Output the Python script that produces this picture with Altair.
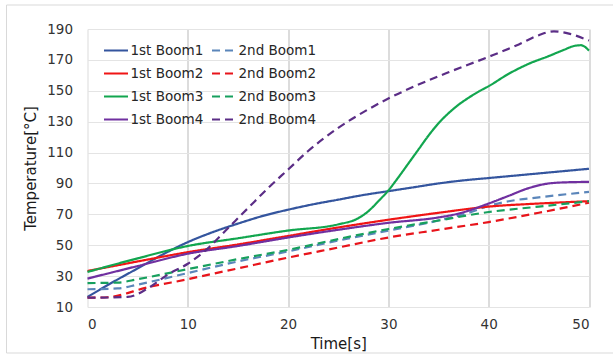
import altair as alt
import pandas as pd

# ---- data ----
series_names = ["1st Boom1", "1st Boom2", "1st Boom3", "1st Boom4",
                "2nd Boom1", "2nd Boom2", "2nd Boom3", "2nd Boom4"]
series_colors = ["#34559E", "#F01515", "#12A64F", "#7030A0",
                 "#5B86BA", "#E8141B", "#17A05E", "#5B2D86"]

t_1st_boom1 = [0, 2.5, 5, 7.5, 10, 12.5, 15, 17.5, 20, 22.5, 25, 27.5, 30, 32.5, 35, 37.5, 40, 42.5, 45, 47.5, 50]
v_1st_boom1 = [16.5, 26, 35, 44, 52, 58.5, 64, 69, 73, 76.5, 79.5, 82.5, 85, 87.5, 90, 92, 93.5, 95, 96.5, 98, 99.5]

t_2nd_boom1 = [0, 3, 5, 10, 15, 20, 25, 30, 35, 38, 40, 42, 45, 50]
v_2nd_boom1 = [21.5, 22, 24.5, 32, 39.5, 46, 53, 59.5, 66, 71, 75.5, 78.5, 81, 84.5]

t_1st_boom2 = [0, 5, 10, 15, 20, 25, 30, 35, 40, 45, 50]
v_1st_boom2 = [33.3, 39.5, 45.5, 50.5, 56, 61.5, 66.5, 71, 75, 77, 78.5]

t_2nd_boom2 = [0, 2, 4, 5, 10, 15, 20, 25, 30, 35, 40, 45, 50]
v_2nd_boom2 = [16, 16.3, 19, 21, 28, 35, 42, 48.5, 55, 60, 65, 71, 77.5]

t_1st_boom3 = [0, 5, 10, 15, 20, 25, 27, 28, 29, 30, 31, 32, 33, 34, 35, 36, 37, 38, 39, 40, 42, 44, 46, 47.5, 48.5, 49.2, 50]
v_1st_boom3 = [32.7, 41.5, 49.5, 54.5, 59.5, 63.5, 67.5, 72, 78.5, 85.5, 94, 103, 112, 121, 129, 135.5, 141, 145.5, 149.5, 153, 161, 167.5, 172.5, 176.5, 179, 179.5, 176]

t_2nd_boom3 = [0, 3, 5, 10, 15, 20, 25, 30, 35, 40, 45, 50]
v_2nd_boom3 = [25.5, 25.8, 28, 34.5, 41, 47, 54, 60.5, 66, 71.5, 75, 78.5]

t_1st_boom4 = [0, 5, 10, 15, 20, 25, 30, 35, 37, 40, 42, 44, 46, 48, 50]
v_1st_boom4 = [28.4, 36.5, 44.5, 49.5, 55, 60, 64.5, 68, 70.5, 77, 82, 87, 90, 90.8, 91]

t_2nd_boom4 = [0, 4, 6, 8, 10, 12, 14, 16, 18, 20, 22, 25, 28, 30, 33, 36, 40, 43, 45, 46.5, 48, 50]
v_2nd_boom4 = [16, 16.5, 22, 31, 38, 48, 61, 74, 87, 99, 111, 126, 138, 145, 154, 162, 172, 180, 186, 188.5, 187, 182.5]

x_ticks = [0, 10, 20, 30, 40, 50]
y_ticks = [10, 30, 50, 70, 90, 110, 130, 150, 170, 190]

series_data = {
    "1st Boom1": (t_1st_boom1, v_1st_boom1),
    "2nd Boom1": (t_2nd_boom1, v_2nd_boom1),
    "1st Boom2": (t_1st_boom2, v_1st_boom2),
    "2nd Boom2": (t_2nd_boom2, v_2nd_boom2),
    "1st Boom3": (t_1st_boom3, v_1st_boom3),
    "2nd Boom3": (t_2nd_boom3, v_2nd_boom3),
    "1st Boom4": (t_1st_boom4, v_1st_boom4),
    "2nd Boom4": (t_2nd_boom4, v_2nd_boom4),
}

rows = []
for name, (ts, vs) in series_data.items():
    for t, v in zip(ts, vs):
        rows.append({"series": name, "time": t, "temp": v})
df = pd.DataFrame(rows)

FONT = "DejaVu Sans"
W, H = 501.5, 278

dash_range = [[1, 0] if n.startswith("1st") else [8, 5] for n in series_names]

legend_kw = dict(title=None, orient="none", legendX=15, legendY=8,
                 columns=2, columnPadding=4, rowPadding=3,
                 symbolType="stroke", symbolSize=576,
                 symbolStrokeWidth=2.2, labelOffset=1,
                 labelFont=FONT, labelFontSize=13.5,
                 labelColor="#262626")

lines = alt.Chart(df).mark_line(interpolate="monotone", strokeWidth=2.2).encode(
    x=alt.X("time:Q",
            scale=alt.Scale(domain=[0, 50], nice=False, zero=False),
            axis=alt.Axis(values=x_ticks, title="Time[s]", grid=True,
                          gridColor={"condition": {"test": "datum.value == 0", "value": "#E4E4E4"}, "value": "#CACACA"},
                          gridWidth=1.3,
                          ticks=False, domain=False, labelPadding=10,
                          titlePadding=6)),
    y=alt.Y("temp:Q",
            scale=alt.Scale(domain=[10, 190], nice=False, zero=False),
            axis=alt.Axis(values=y_ticks, title="Temperature[°C]", grid=True,
                          gridColor="#E4E4E4", ticks=False, domain=False,
                          labelPadding=15, titlePadding=8)),
    color=alt.Color("series:N",
                    scale=alt.Scale(domain=series_names, range=series_colors),
                    legend=alt.Legend(**legend_kw)),
    strokeDash=alt.StrokeDash("series:N",
                              scale=alt.Scale(domain=series_names, range=dash_range),
                              legend=alt.Legend(**legend_kw)),
    order=alt.Order("time:Q"),
)

frame = alt.Chart(pd.DataFrame({"a": [0]})).mark_rect(
    fill=None, stroke="#D9D9D9", strokeWidth=1, clip=False
).encode(
    x=alt.value(-81), x2=alt.value(W + 60),
    y=alt.value(-24), y2=alt.value(H + 46),
)

chart = alt.layer(frame, lines).properties(
    width=W, height=H,
    autosize=alt.AutoSizeParams(type="none"),
    padding={"left": 87.5, "top": 29, "right": 24, "bottom": 51},
    background="white",
).configure_view(stroke=None).configure_axis(
    labelFont=FONT, labelFontSize=13.5, labelColor="#333333",
    titleFont=FONT, titleFontSize=15, titleColor="#1A1A1A", titleFontWeight="normal",
)

chart.save("out.html", embed_options={"renderer": "svg", "actions": False})
